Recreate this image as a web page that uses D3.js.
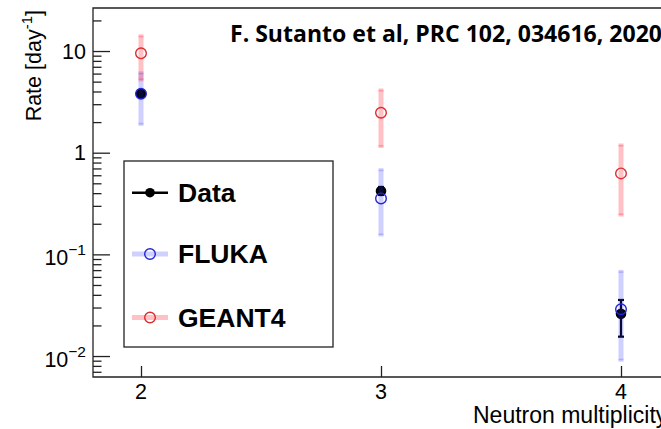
<!DOCTYPE html>
<html>
<head>
<meta charset="utf-8">
<script src="https://cdn.jsdelivr.net/npm/d3@7/dist/d3.min.js"></script>
<style>
  html, body { margin: 0; padding: 0; background: #fff; }
  svg { display: block; }
  text { font-family: "Liberation Sans", Arial, Helvetica, sans-serif; fill: #000; }
</style>
</head>
<body>
<svg id="chart" width="661" height="429"></svg>
<script>
// ---- data ----
const categories = [2, 3, 4];
const dataVal  = [3.8, 0.42, 0.026];
const dataLow  = [3.55, 0.385, 0.0155];
const dataHigh = [4.05, 0.46, 0.0356];
const flukaVal  = [3.8, 0.355, 0.0288];
const flukaLow  = [1.9, 0.155, 0.0091];
const flukaHigh = [6.1, 0.68, 0.068];
const geantVal  = [9.5, 2.47, 0.626];
const geantLow  = [5.2, 1.15, 0.244];
const geantHigh = [14.1, 4.14, 1.19];
const yTickValues = [0.01, 0.1, 1, 10];
const yTickBase = ["10", "10", "1", "10"];
const yTickExp  = ["\u22122", "\u22121", "", ""];
const xTickValues = [2, 3, 4];
const xTickLabels = ["2", "3", "4"];
const legendLabels = ["Data", "FLUKA", "GEANT4"];
const titleText = "F. Sutanto et al, PRC 102, 034616, 2020";
const xTitle = "Neutron multiplicity";

// ---- layout ----
const svg = d3.select("#chart");
const pLeft = 93, pTop = 8, pBottom = 377, pRight = 669;
const x = d3.scaleLinear().domain([1.8, 4.2]).range([pLeft, pRight]);
const y = d3.scaleLog().domain([0.00622, 26.5]).range([pBottom, pTop]);

const axisColor = "#222";

// frame lines (left, top, bottom)
svg.append("path")
  .attr("d", `M${pRight + 5},${pTop}H${pLeft}V${pBottom}H${pRight + 5}`)
  .attr("fill", "none").attr("stroke", axisColor).attr("stroke-width", 1.3);

// y axis major ticks
const yAxis = d3.axisLeft(y).tickValues(yTickValues).tickSize(-17).tickFormat("");
const gy = svg.append("g").attr("transform", `translate(${pLeft},0)`).call(yAxis);
gy.select(".domain").remove();
gy.selectAll(".tick line").attr("stroke", axisColor).attr("stroke-width", 1.3);

// y minor ticks
const minor = [];
for (let e = -3; e <= 1; e++) {
  for (let m = 2; m <= 9; m++) {
    const v = m * Math.pow(10, e);
    if (v >= y.domain()[0] && v <= y.domain()[1]) minor.push(v);
  }
}
const yMinor = d3.axisLeft(y).tickValues(minor).tickSize(-8.5).tickFormat("");
const gym = svg.append("g").attr("transform", `translate(${pLeft},0)`).call(yMinor);
gym.select(".domain").remove();
gym.selectAll(".tick line").attr("stroke", axisColor).attr("stroke-width", 1.3);

// y tick labels
yTickValues.forEach((v, i) => {
  const hasExp = yTickExp[i] !== "";
  const t = svg.append("text")
    .attr("x", 86)
    .attr("y", y(v) + (hasExp ? 11 : 7.7))
    .attr("text-anchor", "end")
    .style("font-size", "21.5px");
  t.append("tspan").text(yTickBase[i]);
  if (hasExp) {
    t.append("tspan").attr("dy", -10).style("font-size", "15.5px").text(yTickExp[i]);
  }
});

// x axis ticks
const xAxis = d3.axisBottom(x).tickValues(xTickValues).tickSize(-11).tickFormat("");
const gx = svg.append("g").attr("transform", `translate(0,${pBottom})`).call(xAxis);
gx.select(".domain").remove();
gx.selectAll(".tick line").attr("stroke", axisColor).attr("stroke-width", 1.3);
xTickValues.forEach((v, i) => {
  svg.append("text")
    .attr("x", x(v)).attr("y", 399)
    .attr("text-anchor", "middle")
    .style("font-size", "21.5px")
    .text(xTickLabels[i]);
});

// axis titles
svg.append("text")
  .attr("x", 473).attr("y", 422.5)
  .style("font-size", "23px")
  .text(xTitle);

const yt = svg.append("text")
  .attr("transform", "translate(41,10) rotate(-90)")
  .attr("text-anchor", "end")
  .style("font-size", "21.5px");
yt.append("tspan").text("Rate [day");
yt.append("tspan").attr("dy", -9).style("font-size", "15px").text("-1");
yt.append("tspan").attr("dy", 9).text("]");

// ---- series ----
const blueBand = "rgba(40,40,255,0.22)";
const redBand = "rgba(255,30,50,0.28)";

function drawBand(vals, lows, highs, bandColor, markerColor) {
  const g = svg.append("g");
  categories.forEach((c, i) => {
    const cx = x(c);
    g.append("line")
      .attr("x1", cx).attr("x2", cx)
      .attr("y1", y(lows[i])).attr("y2", y(highs[i]))
      .attr("stroke", bandColor).attr("stroke-width", 5);
    [lows[i], highs[i]].forEach(v => {
      g.append("line")
        .attr("x1", cx - 2.5).attr("x2", cx + 2.5)
        .attr("y1", y(v)).attr("y2", y(v))
        .attr("stroke", bandColor).attr("stroke-width", 3);
    });
    g.append("circle")
      .attr("cx", cx).attr("cy", y(vals[i])).attr("r", 5.3)
      .attr("fill", "none").attr("stroke", markerColor).attr("stroke-width", 1.4);
  });
}

// Data (drawn first, bands overlay it)
const gd = svg.append("g");
categories.forEach((c, i) => {
  const cx = x(c);
  gd.append("line")
    .attr("x1", cx).attr("x2", cx)
    .attr("y1", y(dataLow[i])).attr("y2", y(dataHigh[i]))
    .attr("stroke", "#000").attr("stroke-width", 2.2);
  [dataLow[i], dataHigh[i]].forEach(v => {
    gd.append("line")
      .attr("x1", cx - 3).attr("x2", cx + 3)
      .attr("y1", y(v)).attr("y2", y(v))
      .attr("stroke", "#000").attr("stroke-width", 2.2);
  });
  gd.append("circle")
    .attr("cx", cx).attr("cy", y(dataVal[i])).attr("r", 5.3)
    .attr("fill", "#000");
});

drawBand(flukaVal, flukaLow, flukaHigh, blueBand, "#2424d8");
drawBand(geantVal, geantLow, geantHigh, redBand, "#dd2a2a");

// ---- legend ----
const lg = svg.append("g");
lg.append("rect")
  .attr("x", 124).attr("y", 161).attr("width", 209).attr("height", 186)
  .attr("fill", "#fff").attr("stroke", axisColor).attr("stroke-width", 1.3);
const legY = [192.7, 254, 317.5];
lg.append("line").attr("x1", 132).attr("x2", 168).attr("y1", legY[0]).attr("y2", legY[0])
  .attr("stroke", "#000").attr("stroke-width", 2.5);
lg.append("circle").attr("cx", 150).attr("cy", legY[0]).attr("r", 4.8).attr("fill", "#000");
lg.append("line").attr("x1", 132).attr("x2", 168).attr("y1", legY[1]).attr("y2", legY[1])
  .attr("stroke", blueBand).attr("stroke-width", 5);
lg.append("circle").attr("cx", 150).attr("cy", legY[1]).attr("r", 5.3)
  .attr("fill", "none").attr("stroke", "#2424d8").attr("stroke-width", 1.4);
lg.append("line").attr("x1", 132).attr("x2", 168).attr("y1", legY[2]).attr("y2", legY[2])
  .attr("stroke", redBand).attr("stroke-width", 5);
lg.append("circle").attr("cx", 150).attr("cy", legY[2]).attr("r", 5.3)
  .attr("fill", "none").attr("stroke", "#dd2a2a").attr("stroke-width", 1.4);
legendLabels.forEach((l, i) => {
  lg.append("text")
    .attr("x", 178).attr("y", legY[i] + 9)
    .style("font-size", "26.5px").style("font-weight", "bold")
    .text(l);
});

// ---- title ----
svg.append("text")
  .attr("x", 230).attr("y", 41.7)
  .attr("textLength", 432).attr("lengthAdjust", "spacingAndGlyphs")
  .style("font-family", "'Open Sans', 'Noto Sans', sans-serif")
  .style("font-size", "23px").style("font-weight", "bold")
  .text(titleText);
</script>
</body>
</html>
